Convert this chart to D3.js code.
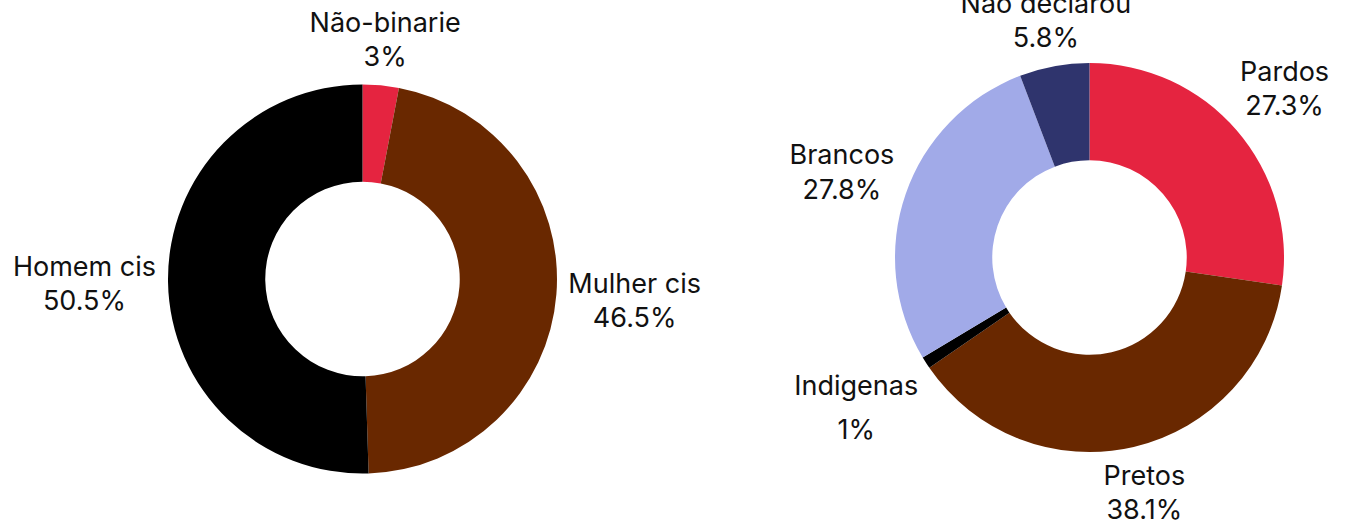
<!DOCTYPE html>
<html><head><meta charset="utf-8">
<script src="https://cdn.jsdelivr.net/npm/d3@7"></script>
<style>body{margin:0;background:#fff}svg{display:block}text{font-family:Inter,"Noto Sans",sans-serif}</style>
</head><body>
<svg id="c" width="1346" height="526"></svg>
<script>
const genderLabels = ["Não-binarie", "Mulher cis", "Homem cis"];
const genderValues = [3, 46.5, 50.5];
const genderColors = ["#e52440", "#692800", "#000000"];

const raceLabels = ["Pardos", "Pretos", "Indigenas", "Brancos", "Não declarou"];
const raceValues = [27.3, 38.1, 1, 27.8, 5.8];
const raceColors = ["#e52440", "#692800", "#000000", "#a1aae8", "#2f346d"];

const svg = d3.select("#c");
const fontSize = 27;

function donut(cx, cy, R, labels, values, colors, gapExtra) {
  const g = svg.append("g").attr("transform", `translate(${cx},${cy})`);
  const pie = d3.pie().sort(null).value(d => d)(values);
  const arc = d3.arc().innerRadius(R * 0.5).outerRadius(R);
  g.selectAll("path").data(pie).join("path")
    .attr("d", arc).attr("fill", (d, i) => colors[i]);
  const pad = 12;
  pie.forEach((d, i) => {
    const a = (d.startAngle + d.endAngle) / 2;
    const s = Math.sin(a), c = -Math.cos(a);
    const gap = 1.27 + (gapExtra[i] || 0);
    const t = g.append("text").attr("text-anchor", "middle")
      .attr("font-size", fontSize).attr("fill", "#111");
    t.append("tspan").attr("x", 0).attr("dy", 0).text(labels[i]);
    t.append("tspan").attr("x", 0).attr("dy", gap + "em").text(d3.format("")(values[i]) + "%");
    const bb = t.node().getBBox();
    const w = bb.width, h = bb.height;
    const dist = Math.min(Math.abs(s) > 1e-6 ? (w / 2) / Math.abs(s) : Infinity,
                          Math.abs(c) > 1e-6 ? (h / 2) / Math.abs(c) : Infinity);
    const r = R + pad + dist;
    const px = s * r, py = c * r;
    const bcx = bb.x + w / 2, bcy = bb.y + h / 2;
    t.attr("transform", `translate(${px - bcx},${py - bcy})`);
  });
}

donut(362.5, 279, 194.5, genderLabels, genderValues, genderColors, []);
donut(1089.5, 257.5, 194.5, raceLabels, raceValues, raceColors, [0, 0, 0.35, 0, 0]);
</script>
</body></html>
